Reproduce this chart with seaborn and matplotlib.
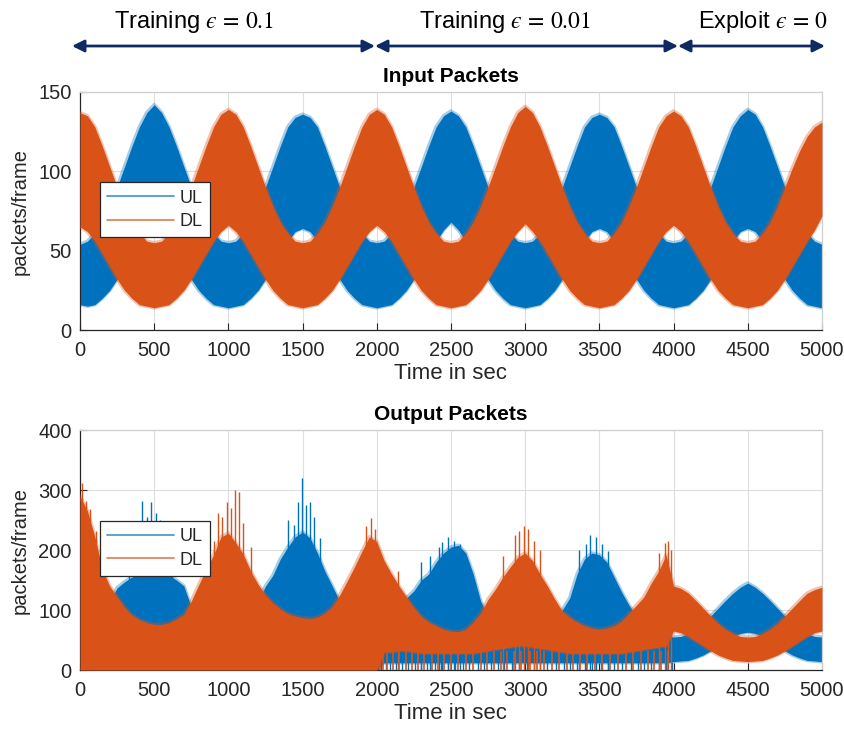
import numpy as np
import matplotlib
matplotlib.use("Agg")
import matplotlib.pyplot as plt
import seaborn as sns

# envelope of the noisy traces, read every 50 s from the picture
time = np.arange(0, 5001, 50)

in_ul_hi = [54,56,61,68,78,90,103,116,128,137,142,
            137,128,116,103,90,78,68,61,56,55,
            56,61,68,78,90,103,116,128,134,136,
            134,128,116,103,90,78,68,61,56,55,
            56,61,68,78,90,103,116,128,135,138,
            135,128,116,103,90,78,68,61,56,55,
            56,61,68,78,90,103,116,128,134,136,
            134,128,116,103,90,78,68,61,56,55,
            56,61,68,78,90,103,116,128,135,139,
            136,128,116,103,90,78,68,61,56,54]
in_ul_lo = [16,15,16,20,25,32,40,48,56,60,60,
            60,56,48,40,32,25,20,16,15,14,
            15,16,20,25,32,40,48,56,62,64,
            62,56,48,40,32,25,20,16,15,14,
            15,16,20,25,32,40,48,56,63,68,
            63,56,48,40,32,25,20,16,15,14,
            15,16,20,25,32,40,48,56,62,64,
            62,56,48,40,32,25,20,16,15,14,
            15,16,20,25,32,40,48,56,62,64,
            62,56,48,40,32,25,20,16,15,14]
in_dl_hi = [137,135,128,116,103,90,78,68,61,56,55,
            56,61,68,78,90,103,116,128,136,139,
            136,128,116,103,90,78,68,61,56,55,
            56,61,68,78,90,103,116,128,136,139,
            136,128,116,103,90,78,68,61,56,55,
            56,61,68,78,90,103,116,128,137,141,
            137,128,116,103,90,78,68,61,56,55,
            56,61,68,78,90,103,116,128,135,138,
            135,128,116,103,90,78,68,61,56,55,
            56,61,68,78,90,102,113,122,128,131]
in_dl_lo = [65,62,56,48,40,32,25,20,16,15,14,
            15,16,20,25,32,40,48,56,62,66,
            62,56,48,40,32,25,20,16,15,14,
            15,16,20,25,32,40,48,56,62,66,
            62,56,48,40,32,25,20,16,15,14,
            15,16,20,25,32,40,48,56,62,67,
            62,56,48,40,32,25,20,16,15,14,
            15,16,20,25,32,40,48,56,62,66,
            62,56,48,40,32,25,20,16,15,14,
            15,16,20,25,32,40,48,56,63,72]

out_ul_hi = [60,60,65,90,115,137,147,155,160,162,163,
             162,158,150,140,105,85,70,62,58,55,
             58,65,85,115,140,158,185,205,222,230,
             220,195,165,140,115,95,80,68,60,55,
             60,75,100,120,132,150,160,180,195,205,
             208,195,160,115,90,75,65,60,58,56,
             58,62,70,85,100,120,160,185,195,192,
             180,155,130,108,90,75,66,60,57,55,
             56,61,68,78,90,103,116,128,138,145,
             138,128,116,103,90,78,68,61,56,55]
out_ul_lo = [0,0,0,0,0,0,0,0,0,0,0,
             0,0,0,0,0,0,0,0,0,0,
             0,0,0,0,0,0,0,0,0,0,
             0,0,0,0,0,0,0,0,0,0,
             12,12,12,12,12,12,12,12,12,12,
             12,12,12,12,12,12,12,12,12,12,
             12,12,12,12,12,12,12,12,12,12,
             12,12,12,12,12,12,12,12,12,14,
             15,16,20,25,32,40,48,56,61,63,
             61,56,48,40,32,25,20,16,15,14]
out_dl_hi = [290,265,222,168,140,122,105,92,84,79,76,
             76,79,85,93,115,142,168,192,222,228,
             212,193,165,143,125,112,102,94,90,87,
             86,88,95,106,125,148,172,198,222,214,
             182,160,140,122,104,90,80,74,68,65,
             64,68,80,95,118,135,155,172,188,195,
             182,160,140,118,98,88,80,74,70,68,
             70,74,82,95,108,122,145,165,192,140,
             136,128,116,103,90,78,68,61,56,55,
             56,61,68,78,90,103,116,128,134,138]
out_dl_lo = [0,0,0,0,0,0,0,0,0,0,0,
             0,0,0,0,0,0,0,0,0,0,
             0,0,0,0,0,0,0,0,0,0,
             0,0,0,0,0,0,0,0,0,0,
             30,30,32,32,30,28,28,28,28,28,
             28,28,28,30,32,34,36,38,40,40,
             38,36,34,32,30,28,28,28,28,28,
             28,28,28,30,32,34,36,38,40,65,
             62,56,48,40,32,25,20,16,15,14,
             15,16,20,25,32,40,48,56,62,65]

# tall spikes in the output trace (time, height)
out_ul_spike_t = [330,400,420,450,480,510,540,575,620,1400,1440,1470,1494,1520,1550,1580,1620,
                  2300,2360,2420,2440,2480,2520,2560,3360,3410,3440,3480,3520,3560]
out_ul_spike_h = [200,245,282,255,280,262,250,245,210,250,242,280,320,275,280,255,220,
                  180,190,205,213,222,215,210,200,210,225,222,210,198]
out_dl_spike_t = [10,40,70,110,900,930,960,990,1020,1045,1071,1100,1150,1930,1960,1990,
                  2140,2850,2930,2960,2990,3020,3060,3100,3900,3940,3965,3985]
out_dl_spike_h = [311,282,268,232,215,262,255,280,270,300,297,245,205,240,253,235,
                  165,190,225,232,240,235,215,200,195,212,215,200]
# drop-outs to zero during the epsilon = 0.01 phase
out_ul_drop_t = [2010,2030,2060,2090,2130,2170,2210,2260,2300,2340,2390,2430,2480,2530,2580,
                 2620,2680,2720,2770,2820,2860,2910,2960,3010,3060,3100,3150,3210,3260,3300,
                 3350,3400,3450,3510,3560,3600,3650,3710,3760,3800,3850,3900,3950,3990]
out_dl_drop_t = [2020,2045,2070,2110,2150,2200,2240,2280,2320,2370,2410,2455,2500,2550,2600,
                 2650,2700,2745,2790,2835,2880,2925,2970,3030,3080,3130,3180,3230,3280,3325,
                 3370,3420,3470,3520,3570,3625,3680,3730,3780,3825,3870,3915,3960]

UL_C = "#0072BD"
DL_C = "#D95319"

sns.set_theme(style="white")
plt.rcParams["font.family"] = ["Liberation Sans", "DejaVu Sans"]
plt.rcParams["mathtext.fontset"] = "stix"

fig = plt.figure(figsize=(8.45, 7.29), dpi=100)
ax1 = fig.add_axes([0.0947, 0.5473, 0.878, 0.3265])
ax2 = fig.add_axes([0.0947, 0.0809, 0.878, 0.3292])


def draw_band(ax, ul_lo, ul_hi, dl_lo, dl_hi):
    ax.fill_between(time, ul_lo, ul_hi, color=UL_C, lw=0, zorder=2)
    sns.lineplot(x=time, y=ul_hi, color=UL_C, lw=2.6, alpha=0.35, zorder=2.1, ax=ax, label="UL")
    sns.lineplot(x=time, y=ul_lo, color=UL_C, lw=2.6, alpha=0.35, zorder=2.1, ax=ax)
    ax.fill_between(time, dl_lo, dl_hi, color=DL_C, lw=0, zorder=3)
    sns.lineplot(x=time, y=dl_hi, color=DL_C, lw=2.6, alpha=0.35, zorder=3.1, ax=ax, label="DL")
    sns.lineplot(x=time, y=dl_lo, color=DL_C, lw=2.6, alpha=0.35, zorder=3.1, ax=ax)


draw_band(ax1, in_ul_lo, in_ul_hi, in_dl_lo, in_dl_hi)
draw_band(ax2, out_ul_lo, out_ul_hi, out_dl_lo, out_dl_hi)

ax2.vlines(out_ul_spike_t, 0, out_ul_spike_h, color=UL_C, lw=1.0, zorder=2.5)
ax2.vlines(out_dl_spike_t, 0, out_dl_spike_h, color=DL_C, lw=1.0, zorder=3.5)
ax2.vlines(out_ul_drop_t, 0, 14, color=UL_C, lw=1.0, zorder=2.5)
ax2.vlines(out_dl_drop_t, 0, 32, color=DL_C, lw=1.2, zorder=3.5)

for ax, top, title in [(ax1, 150, "Input Packets"), (ax2, 400, "Output Packets")]:
    ax.set_xlim(0, 5000)
    ax.set_ylim(0, top)
    ax.set_xticks(range(0, 5001, 500))
    ax.set_yticks(range(0, top + 1, 50 if top == 150 else 100))
    ax.grid(True, color="#dedede", lw=0.8)
    ax.set_axisbelow(True)
    for s in ["left", "bottom"]:
        ax.spines[s].set_color("#262626")
        ax.spines[s].set_linewidth(0.9)
    for s in ["top", "right"]:
        ax.spines[s].set_color("#cfcfcf")
        ax.spines[s].set_linewidth(0.9)
    ax.tick_params(axis="both", direction="in", length=5, width=0.8, colors="#262626",
                   labelsize=14.5, bottom=True, left=True, top=False, right=False)
    ax.tick_params(axis="x", pad=8)
    ax.tick_params(axis="y", pad=6)
    ax.set_title(title, fontsize=15, fontweight="bold", color="black", pad=7)
    ax.set_xlabel("Time in sec", fontsize=16, color="#262626", labelpad=2)
    ax.set_ylabel("packets/frame", fontsize=14.5, color="#262626", labelpad=6)
    h, l = ax.get_legend_handles_labels()
    leg = ax.legend(h, l, loc="upper left", bbox_to_anchor=(0.027, 0.62), borderaxespad=0,
                    fontsize=13, frameon=True, fancybox=False, edgecolor="#262626",
                    framealpha=1, handlelength=3.7, borderpad=0.4, labelspacing=0.35,
                    handletextpad=0.3)
    leg.get_frame().set_linewidth(0.9)
    leg.set_zorder(10)
    for line in leg.get_lines():
        line.set_linewidth(1.3)
        line.set_alpha(0.7)

# phase arrows along the top
phases = [(72, 375, 194, "Training $\u03f5\\,=\\,0.1$"),
          (375, 678, 505, "Training $\u03f5\\,=\\,0.01$"),
          (678, 825, 763, "Exploit $\u03f5\\,=\\,0$")]
W, H = 845, 729
for x0, x1, xt, txt in phases:
    fig.add_artist(matplotlib.patches.FancyArrowPatch(
        (x0 / W, 1 - 46 / H), (x1 / W, 1 - 46 / H), transform=fig.transFigure,
        arrowstyle="<|-|>", mutation_scale=18, color="#0f2a62", lw=2, shrinkA=0, shrinkB=0))
    fig.text(xt / W, 1 - 22 / H, txt, ha="center", va="center", fontsize=17, color="black")

fig.savefig("out.png", dpi=100)
